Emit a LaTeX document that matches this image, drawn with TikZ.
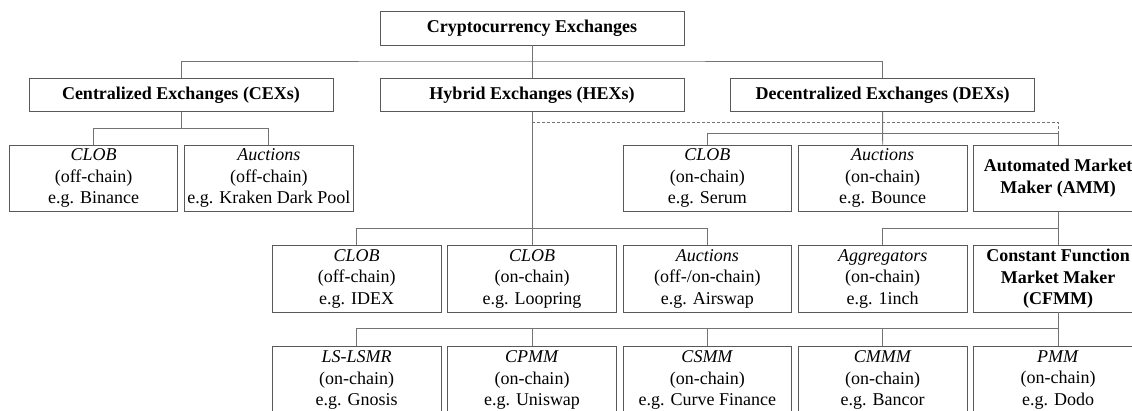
\documentclass[tikz,border=0pt]{standalone}
\usepackage{fontspec}
\setmainfont{Liberation Serif}
\begin{document}
\begin{tikzpicture}[x=1pt, y=-1pt,
    box/.style={draw=black!65, line width=0.9pt, fill=white, inner sep=0pt, align=center,
                font=\fontsize{18}{21.5}\selectfont},
    headbox/.style={box, minimum width=304pt, minimum height=33.5pt,
                font=\fontsize{18}{21.5}\selectfont\bfseries},
    leafbox/.style={box, minimum width=168.5pt, minimum height=66.5pt},
    link/.style={draw=black!55, line width=0.9pt},
    optlink/.style={link, densely dashed, line width=0.7pt}]

        % --- Frame (picture is cut at the right and bottom edges) ---
        \useasboundingbox (0,0) rectangle (1132,410);
        \fill[white] (0,0) rectangle (1132,410);
        \clip (0,0) rectangle (1132,410);

        % --- Root and main classes ---
        \node[headbox, minimum height=34pt] (root) at (532,28) {Cryptocurrency Exchanges};
        \node[headbox] (cex) at (181,94.8)   {Centralized Exchanges (CEXs)};
        \node[headbox] (hex) at (532,94.8)   {Hybrid Exchanges (HEXs)};
        \node[headbox] (dex) at (882.6,94.8) {Decentralized Exchanges (DEXs)};

        % --- CEX types ---
        \node[leafbox] (cexclob) at (93.6,178.4)  {\textit{CLOB}\\(off-chain)\\e.g. Binance};
        \node[leafbox] (cexauct) at (268.9,178.4) {\textit{Auctions}\\(off-chain)\\e.g. Kraken Dark Pool};

        % --- DEX types ---
        \node[leafbox] (dexclob) at (707.4,178.4) {\textit{CLOB}\\(on-chain)\\e.g. Serum};
        \node[leafbox] (dexauct) at (882.7,178.4) {\textit{Auctions}\\(on-chain)\\e.g. Bounce};
        \node[leafbox, font=\fontsize{18}{21.5}\selectfont\bfseries] (amm) at (1058.1,178.4) {Automated Market\\Maker (AMM)};

        % --- HEX types, aggregators and CFMM ---
        \node[leafbox] (hexoff)  at (356.7,278.7)  {\textit{CLOB}\\(off-chain)\\e.g. IDEX};
        \node[leafbox] (hexon)   at (532,278.7)    {\textit{CLOB}\\(on-chain)\\e.g. Loopring};
        \node[leafbox] (hexauct) at (707.4,278.7)  {\textit{Auctions}\\(off-/on-chain)\\e.g. Airswap};
        \node[leafbox] (aggr)    at (882.7,278.7)  {\textit{Aggregators}\\(on-chain)\\e.g. 1inch};
        \node[leafbox, font=\fontsize{18}{21.5}\selectfont\bfseries] (cfmm) at (1058.1,278.7) {Constant Function\\Market Maker\\(CFMM)};

        % --- CFMM types ---
        \node[leafbox] (lslsmr) at (356.7,380)  {\textit{LS-LSMR}\\(on-chain)\\e.g. Gnosis};
        \node[leafbox] (cpmm)   at (532,380)    {\textit{CPMM}\\(on-chain)\\e.g. Uniswap};
        \node[leafbox] (csmm)   at (707.4,380)  {\textit{CSMM}\\(on-chain)\\e.g. Curve Finance};
        \node[leafbox] (cmmm)   at (882.7,380)  {\textit{CMMM}\\(on-chain)\\e.g. Bancor};
        \node[leafbox] (pmm)    at (1058.1,380) {\textit{PMM}\\(on-chain)\\e.g. Dodo};

        % --- Junctions of the tree lines ---
        \coordinate (j0) at (532,61);
        \coordinate (j1) at (181,128.3);
        \coordinate (j2) at (882.7,133.3);
        \coordinate (jd) at (532,122.3);
        \coordinate (j3) at (532,228.3);
        \coordinate (j4) at (1058.1,228.3);
        \coordinate (j5) at (1058.1,328.5);

        % --- Root to main classes ---
        \draw[link] (root.south) -- (hex.north);
        \draw[link] (cex.north) |- (j0) -| (dex.north);

        % --- CEX branch ---
        \draw[link] (cex.south) -- (j1);
        \draw[link] (cexclob.north) |- (j1) -| (cexauct.north);

        % --- DEX branch ---
        \draw[link] (dex.south) -- (dexauct.north);
        \draw[link] (dexclob.north) |- (j2) -| (amm.north);

        % --- HEX branch (dashed link to AMM) ---
        \draw[link] (hex.south) -- (hexon.north);
        \draw[link] (hexoff.north) |- (j3) -| (hexauct.north);
        \draw[optlink] (jd) -| (amm.north |- j2);

        % --- AMM branch ---
        \draw[link] (amm.south) -- (cfmm.north);
        \draw[link] (aggr.north) |- (j4);

        % --- CFMM branch ---
        \draw[link] (cfmm.south) -- (pmm.north);
        \draw[link] (lslsmr.north) |- (j5);
        \foreach \n in {cpmm,csmm,cmmm}
            \draw[link] (\n.north) -- (\n.north |- j5);
    \end{tikzpicture}
\end{document}
